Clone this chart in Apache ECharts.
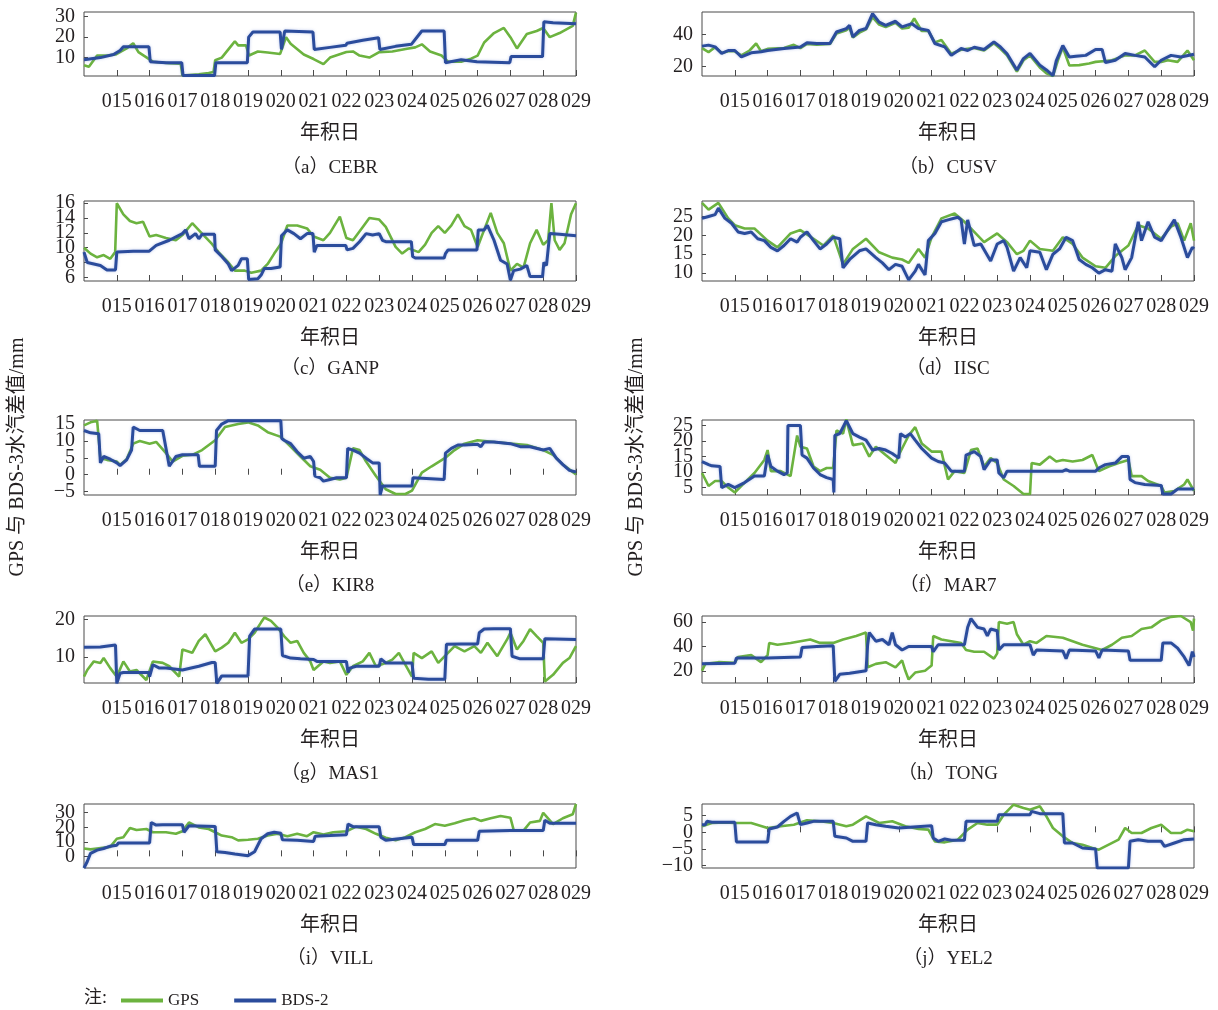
<!DOCTYPE html>
<html>
<head>
<meta charset="utf-8">
<script src="https://cdn.jsdelivr.net/npm/echarts@6/dist/echarts.min.js"></script>
<style>
  html, body { margin: 0; padding: 0; background: #ffffff; }
  #chart { width: 1218px; height: 1010px; }
</style>
</head>
<body>
<div id="chart"></div>
<script>
// ---------------- data: [day of year, water-vapour difference (mm)] ----------------
const stations = ['CEBR', 'CUSV', 'GANP', 'IISC', 'KIR8', 'MAR7', 'MAS1', 'TONG', 'VILL', 'YEL2'];
const panelLetters = ['a', 'b', 'c', 'd', 'e', 'f', 'g', 'h', 'i', 'j'];
const seriesNames = ['GPS', 'BDS-2'];

const dayTicks = [15, 16, 17, 18, 19, 20, 21, 22, 23, 24, 25, 26, 27, 28, 29];
const dayLabels = ['015', '016', '017', '018', '019', '020', '021', '022', '023', '024', '025', '026', '027', '028', '029'];

const yTicksCEBR = [10, 20, 30];
const yTicksCUSV = [20, 40];
const yTicksGANP = [6, 8, 10, 12, 14, 16];
const yTicksIISC = [10, 15, 20, 25];
const yTicksKIR8 = [-5, 0, 5, 10, 15];
const yTicksMAR7 = [5, 10, 15, 20, 25];
const yTicksMAS1 = [10, 20];
const yTicksTONG = [20, 40, 60];
const yTicksVILL = [0, 10, 20, 30];
const yTicksYEL2 = [-10, -5, 0, 5];

const cebrGps = [[14.0,6.3],[14.15,5.5],[14.4,11],[14.7,11],[14.96,11.5],[15.3,14.5],[15.5,17],[15.66,12.7],[15.95,9.6],[16.1,8],[16.6,7.2],[16.95,7],[17.0,1.2],[17.5,1.8],[17.8,2.5],[17.95,3],[18.0,8.7],[18.2,10],[18.5,16],[18.6,18],[18.7,16],[18.94,16],[19.03,11],[19.3,13],[19.6,12.5],[19.98,11.8],[20.16,20],[20.3,16.8],[20.7,11.5],[21.0,9.3],[21.3,6.8],[21.5,10],[22.0,12.7],[22.2,13],[22.4,11],[22.7,10],[23.0,12.7],[23.4,13],[23.85,14.3],[24.1,15],[24.3,16.5],[24.55,13],[24.9,11],[25.1,8],[25.5,8],[25.8,9.5],[26.0,11],[26.2,17.4],[26.5,22],[26.8,24.5],[27.0,20],[27.2,14.5],[27.5,21.5],[27.8,23],[28.0,24.5],[28.2,20],[28.5,22],[28.9,25.5],[29.0,32]];
const cebrBds = [[14.0,9],[14.5,10],[14.9,11.5],[15.1,13.5],[15.2,15.3],[15.98,15.3],[16.02,8],[16.5,7.5],[16.98,7.5],[17.02,1.2],[17.98,1.2],[18.02,7.5],[18.98,7.5],[19.02,20],[19.15,22.5],[19.98,22.5],[20.02,14],[20.12,23],[20.98,22.5],[21.02,14],[21.5,15],[21.98,16],[22.02,17],[22.5,18.5],[22.98,19.7],[23.02,14],[23.5,15.5],[23.98,16.5],[24.3,23],[24.98,23],[25.02,7.5],[25.5,9],[25.98,8],[26.02,7.5],[26.98,7.5],[27.02,10.5],[27.98,10.5],[28.02,27.5],[28.3,27],[29.0,26.5]];

const cusvGps = [[14.0,31.5],[14.2,29],[14.4,32],[14.6,28.5],[14.8,29.5],[15.0,29.5],[15.2,27],[15.45,30],[15.65,34.3],[15.8,29.5],[16.0,31],[16.5,31.5],[16.8,33.5],[17.0,31.5],[17.2,34],[17.5,33.5],[17.9,34],[18.1,40.5],[18.4,42.5],[18.5,44],[18.6,38],[18.8,41],[19.0,43],[19.2,50.5],[19.4,46],[19.6,44.5],[19.9,47],[20.1,43.5],[20.3,44],[20.47,49.7],[20.7,42],[20.9,42],[21.1,35],[21.3,36.5],[21.6,28],[21.9,30.5],[22.1,31],[22.3,31.5],[22.6,30],[22.9,34.5],[23.1,31],[23.3,27],[23.6,17],[23.8,24],[24.0,27],[24.3,19.5],[24.5,16],[24.7,14.3],[24.85,24],[25.0,32],[25.2,20.8],[25.5,21],[25.8,22],[26.0,23],[26.3,23.5],[26.5,24],[26.9,27],[27.2,27],[27.5,30],[27.8,23],[28.0,23],[28.2,24],[28.5,23],[28.8,30],[29.0,24]];
const cusvBds = [[14.0,32.7],[14.2,33.3],[14.4,32.2],[14.6,28.2],[14.8,30],[15.0,30],[15.2,26],[15.5,28.6],[15.8,29.2],[16.0,30],[16.5,31.2],[17.0,32.2],[17.2,34.7],[17.5,34.3],[17.9,34.3],[18.1,41.4],[18.4,43.5],[18.5,45.5],[18.6,38.4],[18.8,42.4],[19.0,43.5],[19.2,52.7],[19.4,47.5],[19.6,45.5],[19.9,48],[20.1,44.5],[20.4,46.5],[20.6,43.5],[20.9,42.4],[21.1,34.3],[21.4,32.2],[21.6,27],[21.9,31.2],[22.1,30],[22.3,32],[22.6,30.6],[22.9,35.3],[23.1,32.2],[23.3,28],[23.6,18],[23.8,25],[24.0,28.2],[24.3,21],[24.5,18],[24.7,14.5],[24.8,23.6],[25.0,33],[25.2,26],[25.4,26.4],[25.7,27],[26.0,30.6],[26.2,30.6],[26.3,22.6],[26.6,24],[26.9,28.2],[27.2,27],[27.5,26],[27.8,20],[28.0,24],[28.3,27],[28.6,26],[29.0,27.7]];

const ganpGps = [[14.0,10],[14.2,9.2],[14.4,8.7],[14.6,9],[14.8,8.5],[14.95,9.4],[15.0,16],[15.2,14.5],[15.4,13.6],[15.6,13.3],[15.8,13.5],[16.0,11.5],[16.2,11.7],[16.5,11.3],[16.8,11],[17.0,11.7],[17.3,13.3],[17.6,11.9],[17.9,10.5],[18.1,9.4],[18.4,8],[18.6,6.9],[18.9,6.9],[19.1,6.6],[19.4,6.9],[19.6,7.8],[19.8,9.2],[20.0,10.5],[20.2,13],[20.5,13],[20.8,12.6],[21.0,11.5],[21.3,11],[21.5,12],[21.8,14.2],[22.0,11.3],[22.2,11],[22.5,12.8],[22.7,14],[23.0,13.8],[23.2,12.8],[23.5,10.1],[23.7,9.2],[23.9,9.9],[24.2,9.4],[24.4,10.4],[24.6,12],[24.8,12.9],[25.0,12],[25.2,13],[25.4,14.5],[25.6,12.9],[25.8,12.4],[26.0,10.1],[26.2,12.4],[26.4,14.7],[26.6,12],[26.8,10.6],[27.0,6.9],[27.2,7.8],[27.4,7.3],[27.6,10.6],[27.8,12.4],[28.0,10.4],[28.15,11],[28.25,16],[28.35,11],[28.5,9.7],[28.65,10.6],[28.85,14.5],[29.0,16]];
const ganpBds = [[14.0,9.4],[14.1,8],[14.3,7.8],[14.5,7.6],[14.7,7],[14.96,7],[15.0,9.4],[15.5,9.5],[15.98,9.5],[16.2,10.3],[16.6,11],[17.0,11.9],[17.1,12.4],[17.2,11.2],[17.4,11.9],[17.5,11.2],[17.6,11.8],[17.98,11.8],[18.0,9.7],[18.2,8.8],[18.4,7.8],[18.5,6.9],[18.7,7.6],[18.8,8.5],[18.98,8.5],[19.02,5.7],[19.3,5.8],[19.4,6.3],[19.5,7.2],[19.7,7.2],[19.98,7.4],[20.02,11.6],[20.2,12.4],[20.4,11.9],[20.6,11.2],[20.8,11.9],[20.98,11.9],[21.02,9.4],[21.1,10.3],[21.98,10.3],[22.02,9.7],[22.2,9.9],[22.4,10.8],[22.6,11.9],[22.8,11.7],[23.0,11.9],[23.1,11],[23.2,10.8],[23.98,10.8],[24.02,8.8],[24.1,8.6],[24.98,8.6],[25.02,9.2],[25.1,9.7],[25.98,9.7],[26.02,12.4],[26.2,12.4],[26.3,13],[26.5,11],[26.7,8.3],[26.9,7.8],[27.0,5.6],[27.1,6.9],[27.3,7.1],[27.5,7.6],[27.6,6.1],[27.98,6.1],[28.02,8],[28.1,7.6],[28.2,11.9],[28.5,11.8],[29.0,11.6]];

const iiscGps = [[14.0,28.6],[14.2,26.8],[14.5,28.6],[14.8,24.5],[15.0,22.7],[15.3,21.8],[15.6,21.8],[16.0,18.6],[16.3,16.8],[16.7,20.5],[17.0,21.4],[17.4,19.1],[17.7,17.3],[18.0,20],[18.3,12.3],[18.6,16.4],[19.0,19.1],[19.4,15.5],[19.8,14.1],[20.1,13.6],[20.3,12.7],[20.6,16.4],[20.8,14.1],[21.0,19.5],[21.3,24.5],[21.7,25.8],[22.0,23.6],[22.3,20.9],[22.6,18.2],[23.0,20.5],[23.3,18.2],[23.6,15],[23.8,15.9],[24.0,18.6],[24.3,16.4],[24.7,15.9],[25.0,19.5],[25.3,17.7],[25.6,14.1],[26.0,11.8],[26.3,11.4],[26.6,14.5],[27.0,17.3],[27.3,22.7],[27.6,21.8],[28.0,19.1],[28.3,22.3],[28.5,23.2],[28.7,18.6],[28.9,23.2],[29.0,18.6]];
const iiscBds = [[14.0,24.5],[14.2,25],[14.4,25.5],[14.5,27.2],[14.7,24.5],[14.9,23.2],[15.1,20.9],[15.3,20.5],[15.5,20.9],[15.7,19.1],[15.9,18.6],[16.1,16.8],[16.3,15.9],[16.5,17.3],[16.7,19.1],[16.9,18.2],[17.0,19.5],[17.2,20.9],[17.4,18.6],[17.6,16.4],[17.8,17.7],[18.0,19.5],[18.2,19.1],[18.3,11.4],[18.5,13.6],[18.8,15.9],[19.0,16.4],[19.3,14.1],[19.5,12.7],[19.7,10.9],[19.9,12.3],[20.1,11.8],[20.3,8.2],[20.5,10.5],[20.6,12.3],[20.8,9.5],[20.9,18.6],[21.1,20.5],[21.3,23.6],[21.5,24.1],[21.8,24.8],[21.9,24.1],[22.0,17.7],[22.1,24.1],[22.3,17.3],[22.5,17.7],[22.8,13.2],[23.0,17.7],[23.2,18.6],[23.3,16.8],[23.5,10.5],[23.7,14.1],[23.9,11.4],[24.0,15.9],[24.3,15.5],[24.5,10.9],[24.7,15],[24.9,16.4],[25.1,19.5],[25.3,18.6],[25.5,13.6],[25.7,12.3],[25.9,11.4],[26.1,10],[26.3,10.9],[26.5,10.5],[26.6,17.7],[26.8,14.1],[26.9,10.9],[27.1,14.1],[27.3,23.6],[27.4,18.6],[27.6,23.6],[27.8,19.5],[28.0,18.6],[28.2,21.4],[28.4,24.1],[28.6,19.5],[28.8,14.1],[28.95,16.8],[29.0,16.4]];

const kir8Gps = [[14.0,14.6],[14.2,15.5],[14.4,16],[14.5,4.9],[14.7,4.4],[15.0,3.9],[15.1,2.9],[15.3,4.6],[15.5,9.2],[15.7,10],[16.0,9.2],[16.2,9.7],[16.5,6.4],[16.7,3.9],[17.0,5.6],[17.3,5.9],[17.6,7.3],[18.0,10.2],[18.3,14.1],[18.7,15],[19.0,15.5],[19.3,14.6],[19.6,12.6],[20.0,11.2],[20.3,8.3],[20.6,5.4],[20.9,2.5],[21.2,1.5],[21.5,-0.9],[21.8,-1.4],[22.0,-0.9],[22.2,7.8],[22.4,7.3],[22.6,3.9],[22.9,-0.4],[23.2,-4.3],[23.5,-5.7],[23.8,-5.7],[24.0,-4.7],[24.3,0.6],[24.6,2.5],[25.0,4.9],[25.3,7.3],[25.6,9.2],[26.0,10.2],[26.5,9.7],[27.0,9.2],[27.5,8.8],[28.0,7.3],[28.3,5.9],[28.6,3],[29.0,0.1]];
const kir8Bds = [[14.0,13.1],[14.2,12.4],[14.45,12.1],[14.5,3.5],[14.6,5.4],[14.8,4.6],[15.0,3.5],[15.1,2.7],[15.3,4.4],[15.45,7.3],[15.5,14.1],[15.6,13.6],[15.7,13.1],[16.4,13.1],[16.6,2.5],[16.8,5.4],[17.0,5.9],[17.48,5.9],[17.52,2.5],[18.0,2.5],[18.04,13.1],[18.2,15],[18.4,16],[20.0,16],[20.03,10.7],[20.1,10.2],[20.3,9.2],[20.5,6.8],[20.7,4.9],[20.9,5.4],[21.0,3.9],[21.04,-0.4],[21.2,-0.9],[21.3,-1.9],[21.5,-1.4],[21.7,-0.9],[22.0,-0.9],[22.04,7.8],[22.2,7.3],[22.4,6.4],[22.6,4.9],[22.8,3.5],[23.0,3.5],[23.03,-6],[23.1,-3.3],[24.0,-3.3],[24.03,-0.9],[24.98,-1.4],[25.02,6.4],[25.2,7.8],[25.4,8.8],[25.6,8.8],[26.0,9],[26.1,8.3],[26.2,9.7],[26.5,9.7],[27.0,9.2],[27.3,8.3],[27.6,8.3],[28.0,7.3],[28.2,7.8],[28.4,4.9],[28.6,3],[28.8,1.3],[29.0,0.8]];

const mar7Gps = [[14.0,9.7],[14.2,5.5],[14.4,7.1],[14.6,7.1],[14.8,5],[15.0,3.4],[15.3,6.6],[15.6,9.7],[15.9,13.9],[16.0,17.1],[16.1,10.3],[16.4,10.3],[16.7,8.7],[16.9,21.8],[17.0,18.2],[17.2,17.6],[17.4,11.8],[17.6,10.3],[17.8,11.3],[18.0,11.3],[18.1,23.4],[18.3,22.4],[18.4,27],[18.6,18.7],[18.9,19.2],[19.1,15],[19.3,18.2],[19.6,15.5],[19.9,12.9],[20.0,15.5],[20.3,21.8],[20.5,24.5],[20.7,19.2],[21.0,16.6],[21.3,16.6],[21.5,7.6],[21.7,10.3],[22.0,9.7],[22.2,17.1],[22.4,17.6],[22.6,11.8],[22.8,14.5],[23.0,12.9],[23.2,7.6],[23.5,5.5],[23.8,2.9],[24.0,2.9],[24.05,12.9],[24.3,12.4],[24.6,15],[24.8,13.4],[25.0,13.9],[25.3,13.4],[25.6,13.9],[25.9,15.5],[26.1,10.3],[26.4,11.8],[26.7,12.9],[27.0,13.9],[27.1,8.7],[27.4,8.7],[27.6,7.1],[28.0,5.5],[28.1,3.4],[28.4,3.9],[28.7,6],[28.8,7.6],[29.0,3.9]];
const mar7Bds = [[14.0,13.4],[14.1,12.9],[14.2,12.4],[14.3,12],[14.55,11.8],[14.6,5],[14.8,6],[15.0,5],[15.3,6.6],[15.6,8.7],[15.9,8.7],[16.0,15.5],[16.1,11.8],[16.3,10.3],[16.5,9.2],[16.6,9.7],[16.62,25],[17.0,25],[17.05,15.5],[17.2,14.5],[17.4,11.3],[17.6,9.2],[17.8,8.2],[18.0,7.6],[18.02,3.4],[18.05,21.8],[18.2,22.4],[18.4,26.6],[18.6,22.4],[18.8,21.3],[19.0,20.3],[19.2,17.1],[19.4,17.6],[19.6,17.1],[19.8,16],[20.0,14.5],[20.05,22.4],[20.2,21.3],[20.35,22.4],[20.5,20.3],[20.7,17.6],[21.0,14.5],[21.2,13.4],[21.4,12.9],[21.6,10.3],[22.0,10.3],[22.05,15.5],[22.3,16.6],[22.5,15],[22.6,10.8],[22.8,13.9],[23.0,13.9],[23.05,9.7],[23.2,8.2],[23.3,10.3],[25.0,10.3],[25.1,10.8],[25.2,10.3],[26.0,10.3],[26.1,11.3],[26.3,12.4],[26.6,12.9],[26.8,15],[27.0,15],[27.05,7.6],[27.2,6.6],[27.5,6],[28.0,5.7],[28.05,2.9],[28.3,2.9],[28.5,4.5],[29.0,4.5]];

const mas1Gps = [[14.0,4.7],[14.1,6.5],[14.3,8.8],[14.5,8.4],[14.6,9.7],[14.8,7],[15.0,4.7],[15.2,8.8],[15.4,6.1],[15.6,6.5],[15.9,3.8],[16.1,8.8],[16.4,8.4],[16.6,7.5],[16.9,4.7],[17.0,12],[17.3,11.1],[17.5,14.3],[17.7,16.1],[18.0,11.5],[18.2,12.5],[18.4,13.8],[18.6,16.5],[18.8,13.8],[19.0,14.7],[19.2,16.5],[19.4,19.3],[19.5,20.6],[19.7,19.7],[19.9,17.9],[20.1,15.6],[20.3,13.8],[20.5,14.3],[20.7,11.1],[20.9,8.8],[21.0,6.5],[21.3,8.8],[21.5,8.4],[21.8,8.8],[22.0,5.2],[22.2,7.5],[22.5,8.8],[22.7,11.1],[22.9,7.5],[23.2,8.4],[23.4,9.3],[23.6,11.1],[23.8,7.9],[24.0,4.7],[24.05,11.1],[24.3,9.7],[24.6,11.5],[24.8,8.4],[25.0,10.2],[25.3,12.9],[25.6,11.5],[25.9,12.9],[26.1,11.1],[26.3,13.8],[26.6,10.2],[26.9,14.7],[27.0,16.5],[27.2,12],[27.4,14.3],[27.6,17.5],[27.8,15.6],[28.0,13.8],[28.05,3.4],[28.3,5.2],[28.6,8.4],[28.8,9.7],[29.0,12.9]];
const mas1Bds = [[14.0,12.6],[14.5,12.7],[14.96,13.2],[15.0,2.9],[15.1,5.6],[15.2,5.8],[15.98,5.8],[16.0,4.7],[16.1,7.9],[16.3,7],[16.5,7],[17.0,6.5],[17.5,7.5],[17.9,8.5],[18.0,8.5],[18.05,2.9],[18.2,4.9],[18.5,4.9],[19.0,4.9],[19.05,15.6],[19.2,17.5],[19.5,17.5],[20.0,17.5],[20.05,10.4],[20.3,9.7],[20.6,9.5],[21.0,9.3],[21.1,8.8],[22.0,8.8],[22.05,5.8],[22.1,7],[22.3,7.5],[23.0,7.5],[23.05,9.5],[23.2,8.4],[24.0,8.4],[24.05,4.3],[24.5,4],[25.0,4],[25.05,13.4],[25.5,13.5],[26.0,13.5],[26.05,16.5],[26.2,17.5],[26.5,17.6],[27.0,17.6],[27.05,10.2],[27.3,9.5],[28.0,9.5],[28.05,14.9],[29.0,14.7]];

const tongGps = [[14.0,20],[14.1,25.7],[14.5,27.1],[15.0,26.6],[15.1,31.4],[15.5,32.9],[15.8,27.1],[16.0,32.9],[16.05,42.9],[16.3,41.4],[16.7,42.9],[17.0,44.3],[17.3,45.7],[17.6,42.9],[18.0,42.9],[18.3,45.7],[18.7,48.6],[19.0,51.4],[19.05,22.9],[19.3,25.7],[19.6,27.1],[19.9,22.9],[20.1,28.6],[20.2,20],[20.3,12.9],[20.5,18.6],[20.8,20],[21.0,24.3],[21.05,48.6],[21.3,45.7],[21.6,44.3],[21.9,42.9],[22.05,37.1],[22.3,35.7],[22.6,35.7],[22.9,30],[23.0,34.3],[23.05,60],[23.3,58.6],[23.5,60],[23.6,50],[23.8,41.4],[24.0,44.3],[24.2,42.9],[24.5,48.6],[25.0,47.1],[25.3,44.3],[25.6,41.4],[26.0,38.6],[26.2,37.1],[26.5,41.4],[26.8,47.1],[27.1,48.6],[27.4,54.3],[27.7,55.7],[28.0,61.4],[28.3,64.3],[28.6,65],[28.9,60],[28.97,52.9],[29.0,62.9]];
const tongBds = [[14.0,25.7],[15.0,26.3],[15.05,30.6],[16.0,30.6],[17.0,31.4],[17.05,39.1],[17.5,40],[18.0,40.6],[18.05,11.4],[18.2,17.1],[18.5,18],[19.0,20],[19.05,41.4],[19.1,51.4],[19.3,44.3],[19.5,45.7],[19.7,41.4],[19.8,51.4],[19.9,41.4],[20.1,37.1],[20.3,40],[21.0,40],[21.05,35.7],[21.2,41.4],[22.0,41.4],[22.1,55.7],[22.2,62.9],[22.4,55.7],[22.6,54.3],[22.7,48.6],[22.8,54.3],[23.0,52.9],[23.05,37.1],[23.2,41.4],[24.0,41.4],[24.1,32.9],[24.2,37.1],[25.0,36.3],[25.1,30],[25.2,37.1],[26.0,36.3],[26.1,30.6],[26.2,37.1],[27.0,36.3],[27.05,28.6],[28.0,28.6],[28.05,42.9],[28.3,42.9],[28.5,38.6],[28.7,31.4],[28.85,24.3],[28.95,35.7],[29.0,31.4]];

const villGps = [[14.0,5.4],[14.2,4.8],[14.4,5.4],[14.8,6.5],[15.0,12.1],[15.2,13.2],[15.4,19.5],[15.6,18.1],[15.9,18.8],[16.1,16.6],[16.5,16.6],[16.8,15.5],[17.0,17.3],[17.2,23.3],[17.5,19.9],[17.8,18.8],[18.0,16.6],[18.2,14.3],[18.5,13.2],[18.7,11],[19.0,11.4],[19.3,12.1],[19.6,14.3],[19.9,15.5],[20.2,13.9],[20.5,15.5],[20.8,13.9],[21.0,16.6],[21.3,15],[21.6,16.6],[22.0,17.3],[22.3,20.4],[22.6,18.8],[22.9,15.5],[23.2,12.8],[23.5,11],[23.8,13.2],[24.1,16.6],[24.4,18.8],[24.7,22.2],[25.0,21],[25.3,22.8],[25.6,24.8],[25.9,26.2],[26.1,24.4],[26.4,26.2],[26.7,27.7],[27.0,26.6],[27.1,18.1],[27.4,17.7],[27.6,23.3],[27.9,24.4],[28.0,30],[28.3,22.2],[28.6,26.2],[28.9,28.9],[29.0,36]];
const villBds = [[14.0,-8],[14.1,-3.5],[14.2,2.1],[14.4,4.3],[14.6,5.4],[14.8,7],[15.0,7.7],[15.05,9.2],[16.0,9.2],[16.05,23.3],[16.2,21.5],[16.4,21.7],[17.0,21.7],[17.05,16.6],[17.2,21],[18.0,20.6],[18.05,3.2],[18.3,2.7],[18.6,1.6],[19.0,0.5],[19.2,3.2],[19.4,12.1],[19.6,15.5],[19.8,16.6],[20.0,15.9],[20.05,11.4],[20.5,11],[21.0,10.3],[21.05,13.9],[21.5,14.3],[22.0,14.8],[22.05,22.2],[22.2,20.4],[23.0,20.4],[23.05,13.2],[23.2,11],[23.6,12.1],[24.0,13.2],[24.05,8.1],[25.0,8.1],[25.05,11],[26.0,11],[26.05,17.3],[27.0,17.7],[28.0,17.7],[28.05,24.8],[28.2,22.8],[29.0,22.8]];

const yel2Gps = [[14.0,1.8],[14.3,2.8],[14.7,3],[15.0,2.8],[15.5,2.8],[16.0,1.3],[16.4,1.8],[16.8,2.3],[17.2,3.6],[17.6,3.3],[18.0,2.8],[18.4,1.8],[18.6,2.3],[19.0,4.8],[19.2,3.8],[19.4,2.8],[19.8,3.3],[20.2,1.8],[20.6,1],[20.9,0.8],[21.1,-2.7],[21.4,-3],[21.8,-2.2],[22.1,0.8],[22.4,2.8],[22.7,2.3],[23.0,2.3],[23.2,5.3],[23.5,8.3],[23.8,7.3],[24.0,6.8],[24.3,7.8],[24.5,4.8],[24.7,1.3],[25.0,-1.2],[25.3,-3.2],[25.6,-3.7],[25.9,-4.7],[26.1,-5.2],[26.4,-3.7],[26.7,-2.2],[26.9,1.3],[27.1,-0.2],[27.4,-0.2],[27.7,1.3],[28.0,2.3],[28.3,-0.2],[28.6,-0.2],[28.8,0.8],[29.0,0.3]];
const yel2Bds = [[14.0,2.3],[14.1,2.3],[14.15,3.3],[14.3,3],[15.0,3],[15.05,-2.9],[16.0,-2.9],[16.05,1],[16.3,1.6],[16.5,3.3],[16.7,4.8],[16.9,5.8],[17.0,2.3],[17.2,2.8],[17.4,3.3],[18.0,3.3],[18.05,-1.2],[18.4,-1.7],[18.6,-2.7],[19.0,-2.7],[19.05,2.8],[19.3,2.3],[19.6,1.8],[20.0,1.3],[20.05,1.8],[21.0,2],[21.05,-1.7],[21.2,-2.7],[21.4,-2],[21.6,-2.4],[22.0,-2.4],[22.05,3.3],[23.0,3.3],[23.05,5.3],[24.0,5.3],[24.05,6.3],[24.3,5.6],[25.0,5.6],[25.05,-3.2],[25.3,-3.2],[25.6,-4.7],[26.0,-5],[26.05,-10.7],[27.0,-10.7],[27.05,-2.7],[27.3,-2.2],[27.6,-2.7],[28.0,-2.7],[28.1,-4.2],[28.4,-3.2],[28.7,-2.2],[29.0,-2]];

// ---------------- panel assembly ----------------
const gpsSets = [cebrGps, cusvGps, ganpGps, iiscGps, kir8Gps, mar7Gps, mas1Gps, tongGps, villGps, yel2Gps];
const bdsSets = [cebrBds, cusvBds, ganpBds, iiscBds, kir8Bds, mar7Bds, mas1Bds, tongBds, villBds, yel2Bds];
const yTickSets = [yTicksCEBR, yTicksCUSV, yTicksGANP, yTicksIISC, yTicksKIR8, yTicksMAR7, yTicksMAS1, yTicksTONG, yTicksVILL, yTicksYEL2];

// axis extents of each panel
const yExtents = [[1, 32.3], [14.3, 53.7], [5.5, 16.3], [7.9, 29.1], [-6, 16.2],
                  [2.6, 26.8], [3, 21], [10, 65], [-8, 36], [-10.7, 8.5]];

// layout (pixels)
const colLeft = [84, 702];
const plotWidth = 492;
const rowBoxes = [[12, 64], [201, 80], [420, 75], [616, 67], [804, 64]];
const captionY = [168, 369, 586, 774, 959];

const GREEN = '#6cb33f';
const BLUE = '#2b4c9c';
const TEXT = '#231f20';
const SERIF = '"Liberation Serif", "Times New Roman", "Noto Sans CJK SC", serif';
const CJK = '"Liberation Serif", "Noto Sans CJK SC", serif';

const minus = v => String(v).replace('-', '\u2212');

const grids = [], xAxes = [], yAxes = [], series = [], graphics = [];

// The tick values of a panel are spread over two overlaid value axes
// (alternate values on each) so that tightly packed labels are all kept.
function makeYAxis(i, values) {
  return {
    gridIndex: i, type: 'value', position: 'left', offset: 0,
    min: yExtents[i][0], max: yExtents[i][1],
    axisLine: { show: false },
    axisTick: { show: true, inside: true, length: 4, customValues: values,
                lineStyle: { color: '#4a4a4a', width: 1 } },
    axisLabel: { customValues: values, margin: 9, formatter: minus,
                 showMinLabel: true, showMaxLabel: true, hideOverlap: false,
                 fontFamily: SERIF, fontSize: 20, color: TEXT },
    splitLine: { show: false }
  };
}

stations.forEach((name, i) => {
  const row = Math.floor(i / 2), col = i % 2;
  const [top, height] = rowBoxes[row];
  grids.push({
    left: colLeft[col], top: top, width: plotWidth, height: height,
    show: true, borderColor: '#4a4a4a', borderWidth: 1, backgroundColor: 'transparent'
  });
  xAxes.push({
    gridIndex: i, type: 'value', min: 14, max: 29,
    axisLine: { show: false },
    axisTick: { show: true, inside: true, length: 6, customValues: dayTicks,
                lineStyle: { color: '#4a4a4a', width: 1 } },
    axisLabel: { customValues: dayTicks, margin: 16, showMinLabel: true, showMaxLabel: true,
                 hideOverlap: false,
                 formatter: v => dayLabels[dayTicks.indexOf(v)],
                 fontFamily: SERIF, fontSize: 20, color: TEXT },
    splitLine: { show: false },
    name: '年积日', nameLocation: 'middle', nameGap: 48,
    nameTextStyle: { fontFamily: CJK, fontSize: 20, color: TEXT }
  });
  const ticks = yTickSets[i];
  yAxes.push(makeYAxis(i, ticks.filter((_, k) => k % 2 === 0)));
  yAxes.push(makeYAxis(i, ticks.filter((_, k) => k % 2 === 1)));
  const yIndex = 2 * i;
  series.push({
    type: 'line', name: seriesNames[0], xAxisIndex: i, yAxisIndex: yIndex,
    data: gpsSets[i], showSymbol: false, symbol: 'none', clip: true, z: 2,
    lineStyle: { color: GREEN, width: 2.6 }, itemStyle: { color: GREEN }
  });
  series.push({
    type: 'line', name: seriesNames[1], xAxisIndex: i, yAxisIndex: yIndex,
    data: bdsSets[i], showSymbol: false, symbol: 'none', clip: true, z: 3,
    lineStyle: { color: BLUE, width: 3, shadowColor: 'rgba(70,100,200,0.35)', shadowBlur: 3 },
    itemStyle: { color: BLUE }
  });
  graphics.push({
    type: 'text', x: colLeft[col] + plotWidth / 2, y: captionY[row],
    style: { text: '（' + panelLetters[i] + '）' + name, fontFamily: CJK, fontSize: 19,
             fill: TEXT, textAlign: 'center', textVerticalAlign: 'middle' }
  });
});

// shared vertical axis titles, one per column
[18, 637].forEach(x => {
  graphics.push({
    type: 'text', x: x, y: 457, rotation: Math.PI / 2,
    style: { text: 'GPS 与 BDS-3水汽差值/mm', fontFamily: CJK, fontSize: 20,
             fill: TEXT, textAlign: 'center', textVerticalAlign: 'middle' }
  });
});

// legend prefix
graphics.push({
  type: 'text', x: 84, y: 998,
  style: { text: '注:', fontFamily: CJK, fontSize: 18, fill: TEXT,
           textAlign: 'left', textVerticalAlign: 'middle' }
});

const chart = echarts.init(document.getElementById('chart'), null, { renderer: 'canvas' });
chart.setOption({
  animation: false,
  backgroundColor: '#ffffff',
  grid: grids,
  xAxis: xAxes,
  yAxis: yAxes,
  series: series,
  legend: {
    data: seriesNames, left: 116, top: 987, icon: 'rect',
    itemWidth: 42, itemHeight: 4, itemGap: 35,
    textStyle: { fontFamily: SERIF, fontSize: 17, color: TEXT }
  },
  graphic: graphics
});
</script>
</body>
</html>
